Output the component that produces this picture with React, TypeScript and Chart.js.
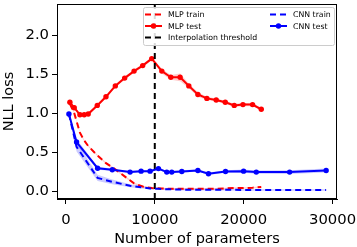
import React, { useEffect, useRef } from "react";
import { Chart, registerables } from "chart.js";
Chart.register(...registerables);

const mlpParams = [450, 940, 1580, 2060, 2510, 3530, 4510, 5560, 6610, 7670, 8640, 9660, 10790, 11800, 12850, 13830, 14850, 15860, 16910, 17930, 18940, 19920, 21000, 21980];
const mlpTest = [1.14, 1.07, 0.98, 0.98, 0.99, 1.10, 1.21, 1.35, 1.45, 1.54, 1.61, 1.70, 1.54, 1.46, 1.46, 1.35, 1.24, 1.19, 1.17, 1.14, 1.10, 1.11, 1.11, 1.05];
const mlpTestStd = [0.02, 0.02, 0.02, 0.02, 0.02, 0.02, 0.02, 0.02, 0.02, 0.02, 0.02, 0.02, 0.03, 0.03, 0.05, 0.03, 0.03, 0.02, 0.02, 0.02, 0.02, 0.02, 0.02, 0.02];
const mlpTrain = [1.12, 1.0, 0.75, 0.65, 0.58, 0.46, 0.36, 0.28, 0.19, 0.10, 0.06, 0.04, 0.035, 0.03, 0.03, 0.03, 0.03, 0.03, 0.03, 0.035, 0.04, 0.04, 0.045, 0.055];
const mlpTrainStd = [0.01, 0.01, 0.01, 0.01, 0.01, 0.01, 0.01, 0.01, 0.01, 0.01, 0.01, 0.01, 0.01, 0.01, 0.01, 0.01, 0.01, 0.01, 0.01, 0.01, 0.01, 0.01, 0.01, 0.01];

const cnnParams = [340, 1200, 3570, 5220, 7220, 8460, 9470, 10410, 11350, 11910, 13040, 14850, 16040, 17960, 19990, 21420, 25170, 29280];
const cnnTest = [0.99, 0.63, 0.295, 0.275, 0.245, 0.257, 0.257, 0.29, 0.245, 0.245, 0.253, 0.266, 0.224, 0.253, 0.257, 0.245, 0.245, 0.266];
const cnnTestStd = [0.02, 0.04, 0.02, 0.015, 0.015, 0.015, 0.015, 0.015, 0.015, 0.015, 0.015, 0.015, 0.015, 0.015, 0.02, 0.02, 0.025, 0.025];
const cnnTrain = [0.99, 0.57, 0.17, 0.12, 0.07, 0.05, 0.035, 0.03, 0.025, 0.025, 0.02, 0.02, 0.02, 0.02, 0.015, 0.015, 0.015, 0.015];
const cnnTrainStd = [0.02, 0.06, 0.04, 0.03, 0.02, 0.015, 0.01, 0.01, 0.01, 0.01, 0.01, 0.01, 0.01, 0.01, 0.01, 0.01, 0.01, 0.01];

const thresholdX = 10000;
const xTicks = [0, 10000, 20000, 30000];
const yTicks = [0, 0.5, 1.0, 1.5, 2.0];
const xRange = [-1000, 30500];
const yRange = [-0.1, 2.4];
const xTitle = "Number of parameters";
const yTitle = "NLL loss";

const legendItems = [
  { label: "MLP train", color: "#ff0000", dash: true, marker: false, col: 0, row: 0 },
  { label: "MLP test", color: "#ff0000", dash: false, marker: true, col: 0, row: 1 },
  { label: "Interpolation threshold", color: "#000000", dash: true, marker: false, col: 0, row: 2 },
  { label: "CNN train", color: "#0000ff", dash: true, marker: false, col: 1, row: 0 },
  { label: "CNN test", color: "#0000ff", dash: false, marker: true, col: 1, row: 1 },
];

const FONT = "'DejaVu Sans', sans-serif";
const TICK_SIZE = 14.8;
const TITLE_SIZE = 14.5;

const pts = (xs: number[], ys: number[]) => xs.map((x, i) => ({ x, y: ys[i] }));
const ptsOff = (xs: number[], ys: number[], sd: number[], sign: number) =>
  xs.map((x, i) => ({ x, y: ys[i] + sign * sd[i] }));

const framePlugin = {
  id: "frame",
  afterDatasetsDraw(chart: any) {
    const { left, top, right, bottom } = chart.chartArea;
    const c = chart.ctx;
    c.save();
    c.strokeStyle = "#000";
    c.lineWidth = 1;
    c.strokeRect(Math.round(left) + 0.5, Math.round(top) + 0.5, Math.round(right - left) - 1, Math.round(bottom - top) - 1);
    c.restore();
  },
};

const titlePlugin = {
  id: "axisTitles",
  afterDraw(chart: any) {
    const { left, top, right, bottom } = chart.chartArea;
    const c = chart.ctx;
    c.save();
    c.fillStyle = "#000";
    c.font = `${TITLE_SIZE}px ${FONT}`;
    c.textAlign = "center";
    c.textBaseline = "alphabetic";
    c.fillText(xTitle, (left + right) / 2, 243);
    c.translate(13, (top + bottom) / 2);
    c.rotate(-Math.PI / 2);
    c.fillText(yTitle, 0, 0);
    c.restore();
  },
};

const legendPlugin = {
  id: "customLegend",
  afterDraw(chart: any) {
    const c = chart.ctx;
    const { right, top } = chart.chartArea;
    const w = 191, h = 38;
    const x0 = right - 3 - w, y0 = top + 3;
    c.save();
    c.fillStyle = "rgba(255,255,255,0.85)";
    c.strokeStyle = "#cccccc";
    c.lineWidth = 1;
    c.beginPath();
    (c as any).roundRect(x0 + 0.5, y0 + 0.5, w, h, 2);
    c.fill();
    c.stroke();
    c.font = `7.8px ${FONT}`;
    c.textBaseline = "middle";
    c.textAlign = "left";
    for (const it of legendItems) {
      const lx = x0 + 2 + it.col * 125;
      const ly = y0 + 7.5 + it.row * 11.5;
      c.strokeStyle = it.color;
      c.lineWidth = 2;
      c.setLineDash(it.dash ? [6, 4] : []);
      c.beginPath();
      c.moveTo(lx, ly);
      c.lineTo(lx + 17, ly);
      c.stroke();
      c.setLineDash([]);
      if (it.marker) {
        c.fillStyle = it.color;
        c.beginPath();
        c.arc(lx + 8.5, ly, 2.7, 0, Math.PI * 2);
        c.fill();
      }
      c.fillStyle = "#000";
      c.fillText(it.label, lx + 23, ly + 0.5);
    }
    c.restore();
  },
};

function band(xs: number[], ys: number[], sd: number[], color: string, order: number) {
  return [
    { data: ptsOff(xs, ys, sd, -1), borderWidth: 0, pointRadius: 0, showLine: true, fill: false, order, borderColor: "rgba(0,0,0,0)" },
    { data: ptsOff(xs, ys, sd, 1), borderWidth: 0, pointRadius: 0, showLine: true, fill: "-1", backgroundColor: color, borderColor: "rgba(0,0,0,0)", order },
  ];
}

export default function App() {
  const ref = useRef<HTMLCanvasElement>(null);
  useEffect(() => {
    const canvas = ref.current!;
    const tickFont = { family: FONT, size: TICK_SIZE };
    const chart = new Chart(canvas, {
      type: "scatter",
      data: {
        datasets: [
          ...band(mlpParams, mlpTrain, mlpTrainStd, "rgba(255,0,0,0.2)", 10),
          ...band(mlpParams, mlpTest, mlpTestStd, "rgba(255,0,0,0.2)", 10),
          ...band(cnnParams, cnnTrain, cnnTrainStd, "rgba(0,0,255,0.2)", 10),
          ...band(cnnParams, cnnTest, cnnTestStd, "rgba(0,0,255,0.2)", 10),
          {
            label: "CNN test",
            data: pts(cnnParams, cnnTest),
            borderColor: "#0000ff",
            backgroundColor: "#0000ff",
            borderWidth: 2,
            pointRadius: 2.7,
            pointBorderWidth: 0,
            showLine: true,
            order: 1,
          },
          {
            label: "CNN train",
            data: pts(cnnParams, cnnTrain),
            borderColor: "#0000ff",
            backgroundColor: "#0000ff",
            borderWidth: 2,
            borderDash: [6, 4],
            pointRadius: 0,
            showLine: true,
            order: 2,
          },
          {
            label: "Interpolation threshold",
            data: [{ x: thresholdX, y: yRange[0] }, { x: thresholdX, y: yRange[1] }],
            borderColor: "#000000",
            borderWidth: 2,
            borderDash: [6, 4],
            pointRadius: 0,
            showLine: true,
            order: 3,
          },
          {
            label: "MLP test",
            data: pts(mlpParams, mlpTest),
            borderColor: "#ff0000",
            backgroundColor: "#ff0000",
            borderWidth: 2,
            pointRadius: 2.7,
            pointBorderWidth: 0,
            showLine: true,
            order: 4,
          },
          {
            label: "MLP train",
            data: pts(mlpParams, mlpTrain),
            borderColor: "#ff0000",
            backgroundColor: "#ff0000",
            borderWidth: 2,
            borderDash: [6, 4],
            pointRadius: 0,
            showLine: true,
            order: 5,
          },
        ],
      },
      options: {
        responsive: false,
        animation: false,
        devicePixelRatio: 1,
        layout: { padding: { left: 0, top: 1, right: 20, bottom: 0 } },
        plugins: { legend: { display: false }, tooltip: { enabled: false }, filler: { propagate: false } },
        scales: {
          x: {
            type: "linear",
            min: xRange[0],
            max: xRange[1],
            afterBuildTicks: (s: any) => { s.ticks = xTicks.map((v) => ({ value: v })); },
            afterFit: (s: any) => { s.height = 48; s.paddingLeft = 0; s.paddingRight = 0; },
            ticks: { font: tickFont, color: "#000", maxRotation: 0, padding: 7, callback: (v: any) => String(v) },
            grid: { drawOnChartArea: false, drawTicks: true, tickLength: 5, color: "#000", tickWidth: 1 },
            border: { display: true, color: "#000", width: 1 },
          },
          y: {
            type: "linear",
            min: yRange[0],
            max: yRange[1],
            afterBuildTicks: (s: any) => { s.ticks = yTicks.map((v) => ({ value: v })); },
            afterFit: (s: any) => { s.width = 57; s.paddingTop = 0; s.paddingBottom = 0; },
            ticks: { font: tickFont, color: "#000", padding: 3, callback: (v: any) => Number(v).toFixed(1) },
            grid: { drawOnChartArea: false, drawTicks: true, tickLength: 5, color: "#000", tickWidth: 1 },
            border: { display: true, color: "#000", width: 1 },
          },
        },
      },
      plugins: [framePlugin, titlePlugin, legendPlugin],
    } as any);
    return () => chart.destroy();
  }, []);
  return (
    <div style={{ position: "absolute", left: 0, top: 0, width: 357, height: 247 }}>
      <canvas ref={ref} width={357} height={247} style={{ display: "block" }} />
    </div>
  );
}
